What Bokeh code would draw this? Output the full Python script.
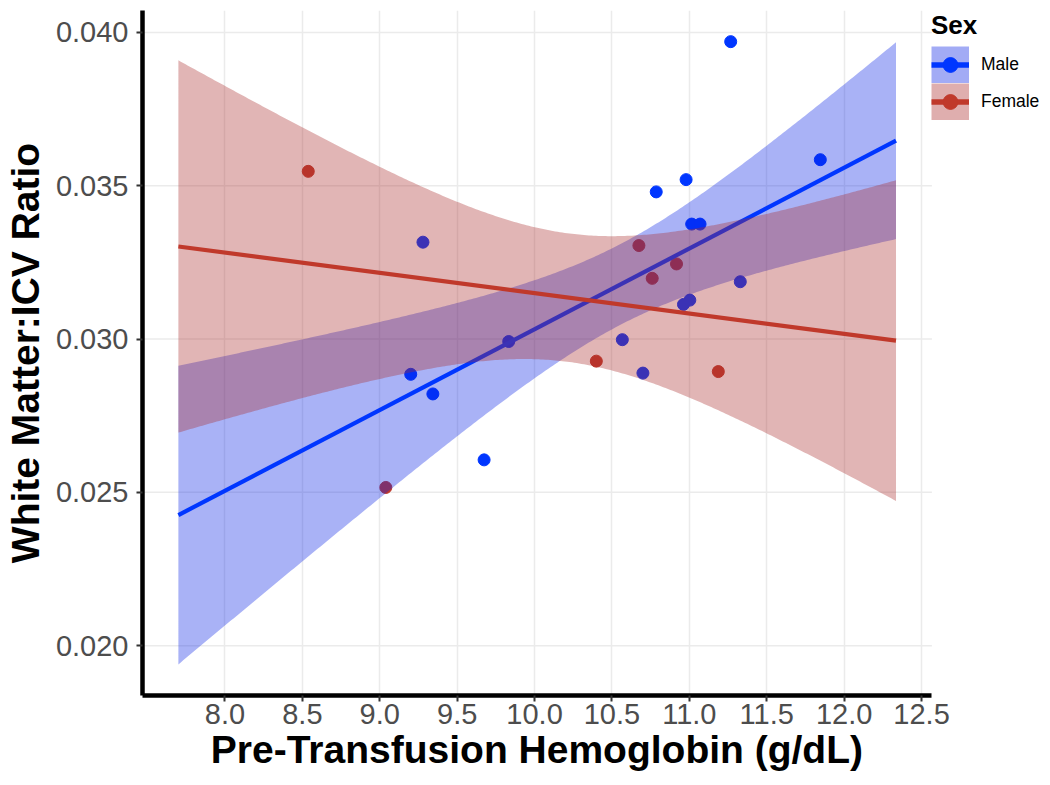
import numpy as np
from bokeh.plotting import figure
from bokeh.models import Range1d, FixedTicker, Legend, LegendItem, ColumnDataSource
from bokeh.embed import file_html
from bokeh.resources import INLINE

# ---- data ----
male_hb = [11.267, 11.846, 10.786, 10.979, 11.015, 11.069, 9.200, 9.343, 9.674,
           9.279, 9.833, 10.567, 10.700, 10.962, 11.003, 11.329]
male_ratio = [0.03970, 0.03585, 0.03480, 0.03520, 0.03375, 0.03375, 0.02885, 0.02821, 0.02606,
              0.03316, 0.02992, 0.02998, 0.02889, 0.03113, 0.03127, 0.03187]
female_hb = [8.538, 10.399, 11.187, 9.039, 10.674, 10.760, 10.917]
female_ratio = [0.03547, 0.02928, 0.02894, 0.02516, 0.03305, 0.03198, 0.03245]

# fitted lines (values at the ends of the smoothing range) and 95% CI half-widths
fit_x_ends = [7.699, 12.335]
male_fit_ends = [0.02426, 0.03647]
male_ci_half_ends = [0.00487, 0.00321]
male_ci_waist_x = 10.553
female_fit_ends = [0.03302, 0.02995]
female_ci_half_ends = [0.00607, 0.00523]
female_ci_waist_x = 10.217

x_ticks = [8.0, 8.5, 9.0, 9.5, 10.0, 10.5, 11.0, 11.5, 12.0, 12.5]
x_tick_labels = ["8.0", "8.5", "9.0", "9.5", "10.0", "10.5", "11.0", "11.5", "12.0", "12.5"]
y_ticks = [0.020, 0.025, 0.030, 0.035, 0.040]
y_tick_labels = ["0.020", "0.025", "0.030", "0.035", "0.040"]

x_title = "Pre-Transfusion Hemoglobin (g/dL)"
y_title = "White Matter:ICV Ratio"
legend_title = "Sex"
legend_labels = ["Male", "Female"]

# panel limits (data units)
x_lim = (7.4672, 12.5668)
y_lim = (0.018375, 0.040716)

BLUE = "#0036ff"
RED = "#c0392b"
BLUE_FILL = "#0a22e6"
RED_FILL = "#aa2a2a"
FONT = "Liberation Sans"

W, H = 1050, 785
BORDER_L, BORDER_B, BORDER_T = 139, 90, 10
PANEL_W = 792  # panel width in px; the frame continues to the right to hold the legend


def ci_band(fit_ends, half_ends, x0):
    xl, xr = fit_x_ends
    xs = np.linspace(xl, xr, 300)
    yhat = fit_ends[0] + (xs - xl) / (xr - xl) * (fit_ends[1] - fit_ends[0])
    dl2, dr2 = (xl - x0) ** 2, (xr - x0) ** 2
    B = (half_ends[0] ** 2 - half_ends[1] ** 2) / (dl2 - dr2)
    A = half_ends[1] ** 2 - B * dr2
    hw = np.sqrt(A + B * (xs - x0) ** 2)
    return dict(x=xs, lo=yhat - hw, hi=yhat + hw)


frame_w = W - BORDER_L
x_end = x_lim[0] + (x_lim[1] - x_lim[0]) * frame_w / PANEL_W

p = figure(width=W, height=H, output_backend="svg", toolbar_location=None,
           x_range=Range1d(x_lim[0], x_end), y_range=Range1d(*y_lim),
           min_border_left=BORDER_L, min_border_right=0, min_border_top=BORDER_T,
           min_border_bottom=BORDER_B)
p.outline_line_color = None
p.background_fill_color = "white"

# grid: vertical lines via grid, horizontal lines limited to the panel
p.xgrid.ticker = FixedTicker(ticks=x_ticks)
p.xgrid.grid_line_color = "#ebebeb"
p.xgrid.grid_line_width = 1.5
p.ygrid.visible = False
p.segment(x0=[x_lim[0]] * len(y_ticks), x1=[x_lim[1]] * len(y_ticks), y0=y_ticks, y1=y_ticks,
          line_color="#ebebeb", line_width=1.5, level="underlay")

# axes
for ax, ticks, labels in ((p.xaxis, x_ticks, x_tick_labels), (p.yaxis, y_ticks, y_tick_labels)):
    ax.ticker = FixedTicker(ticks=ticks)
    ax.major_label_overrides = {t: l for t, l in zip(ticks, labels)}
    ax.axis_line_color = "black"
    ax.axis_line_width = 4.5
    ax.major_tick_line_color = "#333333"
    ax.major_tick_line_width = 2
    ax.major_tick_out = 6
    ax.major_tick_in = 0
    ax.minor_tick_line_color = None
    ax.major_label_text_font = FONT
    ax.major_label_text_font_size = "29px"
    ax.major_label_text_color = "#4d4d4d"
    ax.axis_label_text_font = FONT
    ax.axis_label_text_font_size = "39px"
    ax.axis_label_text_font_style = "bold"
    ax.axis_label_text_color = "black"

p.xaxis.bounds = x_lim
# the axis title is centred on the frame; trailing no-break spaces re-centre it on the panel
p.xaxis.axis_label = x_title + "\u00a0" * 11
p.yaxis.axis_label = y_title
p.xaxis.major_label_standoff = 2
p.xaxis.axis_label_standoff = 1
p.yaxis.major_label_standoff = 8
p.yaxis.axis_label_standoff = 6

# points (drawn first, under the ribbons)
p.scatter(male_hb, male_ratio, size=12, color=BLUE)
p.scatter(female_hb, female_ratio, size=12, color=RED)

# male fit
mb = ci_band(male_fit_ends, male_ci_half_ends, male_ci_waist_x)
m_area = p.varea(x="x", y1="lo", y2="hi", source=ColumnDataSource(mb), fill_color=BLUE_FILL, fill_alpha=0.35)
m_line = p.line(fit_x_ends, male_fit_ends, line_color=BLUE, line_width=4.2)

# female fit
fb = ci_band(female_fit_ends, female_ci_half_ends, female_ci_waist_x)
f_area = p.varea(x="x", y1="lo", y2="hi", source=ColumnDataSource(fb), fill_color=RED_FILL, fill_alpha=0.35)
f_line = p.line(fit_x_ends, female_fit_ends, line_color=RED, line_width=4.2)

# legend keys (marks placed outside the visible range; only the legend shows them)
GLYPH_W, GLYPH_H = 38, 37
items = []
for lab, col, fill in zip(legend_labels, [BLUE, RED], [BLUE_FILL, RED_FILL]):
    box = p.line([100.0, 101.0], [1.0, 1.0], line_color=fill, line_alpha=0.38,
                 line_width=GLYPH_H, line_cap="butt")
    ln = p.line([100.0, 101.0], [1.0, 1.0], line_color=col, line_width=5.5)
    pt = p.scatter([100.0], [1.0], size=12, color=col)
    items.append(LegendItem(label=lab, renderers=[box, ln, pt]))

legend = Legend(items=items, title=legend_title, location="top_right")
legend.title_text_font = FONT
legend.title_text_font_style = "bold"
legend.title_text_font_size = "26px"
legend.title_text_color = "black"
legend.title_standoff = 5
legend.label_text_font = FONT
legend.label_text_font_size = "17.5px"
legend.label_text_color = "black"
legend.glyph_width = GLYPH_W
legend.glyph_height = GLYPH_H
legend.label_standoff = 12
legend.label_width = 69
legend.spacing = 0
legend.padding = 0
legend.margin = 0
legend.border_line_color = None
legend.background_fill_alpha = 0
p.add_layout(legend)

open("out.html", "w").write(file_html(p, INLINE))
